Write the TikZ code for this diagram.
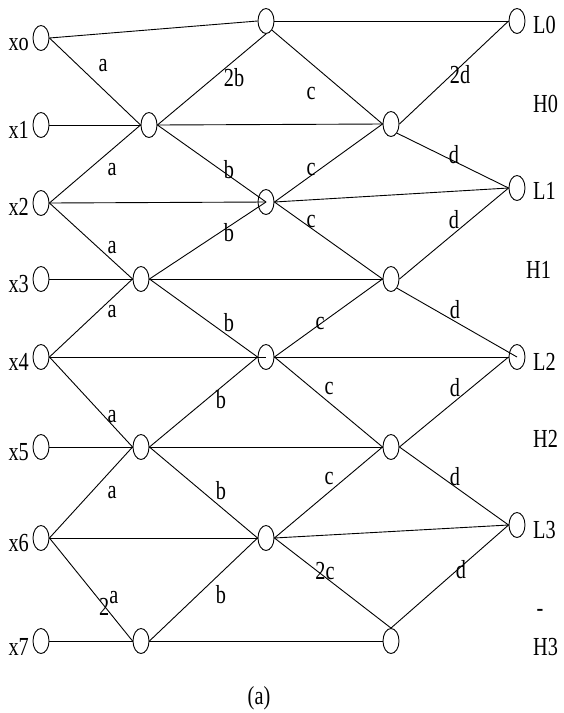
\documentclass[tikz,border=0pt]{standalone}
\usepackage{fontspec}
\setmainfont{Liberation Serif}[FakeStretch=0.78]
\usetikzlibrary{shapes.geometric}
\begin{document}
\begin{tikzpicture}[x=1pt,y=-1pt,
  nd/.style={draw, ellipse, minimum width=16pt, minimum height=25pt, inner sep=0pt, line width=0.9pt},
  lbl/.style={font=\fontsize{26}{31}\selectfont, inner sep=0pt},
  ln/.style={line width=0.9pt}]
\useasboundingbox (0,0) rectangle (564,713);
% input nodes
\node[nd] (x0) at (41,38) {};
\node[nd] (x1) at (41,125) {};
\node[nd] (x2) at (41,203) {};
\node[nd] (x3) at (41,279) {};
\node[nd] (x4) at (41,357) {};
\node[nd] (x5) at (41,447) {};
\node[nd] (x6) at (41,538) {};
\node[nd] (x7) at (41,641) {};
% stage 1
\node[nd] (a1) at (149,125) {};
\node[nd] (a3) at (141,279) {};
\node[nd] (a5) at (141,447) {};
\node[nd] (a7) at (141,641) {};
% stage 2
\node[nd] (b0) at (266,21) {};
\node[nd] (b2) at (266,202) {};
\node[nd] (b4) at (266,357) {};
\node[nd] (b6) at (266,538) {};
% stage 3
\node[nd] (c1) at (391,124) {};
\node[nd] (c3) at (391,279) {};
\node[nd] (c5) at (391,447) {};
\node[nd] (c7) at (391,641) {};
% outputs
\node[nd] (L0) at (517,21) {};
\node[nd] (L1) at (517,188) {};
\node[nd] (L2) at (517,357) {};
\node[nd] (L3) at (517,525) {};
% input labels
\node[lbl, anchor=base east] (tx0) at (29,50) {xo};
\node[lbl, anchor=base east] (tx1) at (29,138) {x1};
\node[lbl, anchor=base east] (tx2) at (29,215) {x2};
\node[lbl, anchor=base east] (tx3) at (29,292) {x3};
\node[lbl, anchor=base east] (tx4) at (29,370) {x4};
\node[lbl, anchor=base east] (tx5) at (29,460) {x5};
\node[lbl, anchor=base east] (tx6) at (29,551) {x6};
\node[lbl, anchor=base east] (tx7) at (29,655) {x7};
% output labels
\node[lbl, anchor=base west] (tL0) at (533,33) {L0};
\node[lbl, anchor=base west] (tH0) at (533,112) {H0};
\node[lbl, anchor=base west] (tL1) at (533,199) {L1};
\node[lbl, anchor=base west] (tH1) at (526,278) {H1};
\node[lbl, anchor=base west] (tL2) at (533,370) {L2};
\node[lbl, anchor=base west] (tH2) at (533,447) {H2};
\node[lbl, anchor=base west] (tL3) at (533,538) {L3};
\node[lbl] (tdash) at (540,613) {-};
\node[lbl, anchor=base west] (tH3) at (533,655) {H3};
\node[lbl, anchor=base] (cap) at (259,704) {(a)};
% connectors from inputs
\draw[ln] (x0.east) -- (b0.west);
\draw[ln] (x0.east) -- (a1.west);
\draw[ln] (x1.east) -- (a1.west);
\draw[ln] (x2.east) -- (a1.west);
\draw[ln] (x2.east) -- (b2.center);
\draw[ln] (x2.east) -- (a3.west);
\draw[ln] (x3.east) -- (a3.west);
\draw[ln] (x4.east) -- (a3.west);
\draw[ln] (x4.east) -- (b4.center);
\draw[ln] (x4.east) -- (a5.west);
\draw[ln] (x5.east) -- (a5.west);
\draw[ln] (x6.east) -- (a5.west);
\draw[ln] (x6.east) -- (b6.west);
\draw[ln] (x6.east) -- (a7.west);
\draw[ln] (x7.east) -- (a7.west);
% stage 1 out
\draw[ln] (a1.east) -- (b0.south);
\draw[ln] (a1.east) -- (c1.west);
\draw[ln] (a1.east) -- (b2.center);
\draw[ln] (a3.east) -- (b2.center);
\draw[ln] (a3.east) -- (c3.west);
\draw[ln] (a3.east) -- (b4.west);
\draw[ln] (a5.east) -- (b4.west);
\draw[ln] (a5.east) -- (c5.west);
\draw[ln] (a5.east) -- (b6.west);
\draw[ln] (a7.east) -- (b6.west);
\draw[ln] (a7.east) -- (c7.west);
% stage 2 out
\draw[ln] (b0.east) -- (L0.west);
\draw[ln] (b0.south east) -- (c1.west);
\draw[ln] (b2.east) -- (c1.west);
\draw[ln] (b2.east) -- (L1.west);
\draw[ln] (b2.east) -- (c3.west);
\draw[ln] (b4.east) -- (c3.west);
\draw[ln] (b4.east) -- (L2.west);
\draw[ln] (b4.east) -- (c5.west);
\draw[ln] (b6.east) -- (c5.west);
\draw[ln] (b6.east) -- (L3.west);
\draw[ln] (b6.east) -- (c7.north);
% stage 3 out
\draw[ln] (c1.east) -- (L0.west);
\draw[ln] (c1.south east) -- (L1.west);
\draw[ln] (c3.east) -- (L1.west);
\draw[ln] (c3.south east) -- (L2.center);
\draw[ln] (c5.east) -- (L2.west);
\draw[ln] (c5.east) -- (L3.west);
\draw[ln] (c7.north) -- (L3.west);
% edge labels
\node[lbl] (la1) at (103,66) {a};
\node[lbl] (l2b) at (234,78) {2b};
\node[lbl] (la2) at (112,170) {a};
\node[lbl] (lb1) at (229,170) {b};
\node[lbl] (la3) at (112,248) {a};
\node[lbl] (lb2) at (229,233) {b};
\node[lbl] (lc1) at (311,93) {c};
\node[lbl] (l2d) at (460,75) {2d};
\node[lbl] (ld1) at (454,155) {d};
\node[lbl] (lc2) at (311,169) {c};
\node[lbl] (lc3) at (311,221) {c};
\node[lbl] (ld2) at (454,220) {d};
\node[lbl] (la4) at (112,312) {a};
\node[lbl] (lb3) at (229,323) {b};
\node[lbl] (la5) at (112,417) {a};
\node[lbl] (lb4) at (221,400) {b};
\node[lbl] (la6) at (112,493) {a};
\node[lbl] (lb5) at (221,491) {b};
\node[lbl] (lc4) at (320,323) {c};
\node[lbl] (ld3) at (455,310) {d};
\node[lbl] (lc5) at (329,388) {c};
\node[lbl] (ld4) at (455,388) {d};
\node[lbl] (lc6) at (329,478) {c};
\node[lbl] (ld5) at (455,477) {d};
\node[lbl, anchor=base west] (l2a) at (99,615) {2\raisebox{12pt}{a}};
\node[lbl] (lb6) at (221,595) {b};
\node[lbl] (l2c) at (325,571) {2c};
\node[lbl] (ld6) at (461,570) {d};
\end{tikzpicture}
\end{document}
